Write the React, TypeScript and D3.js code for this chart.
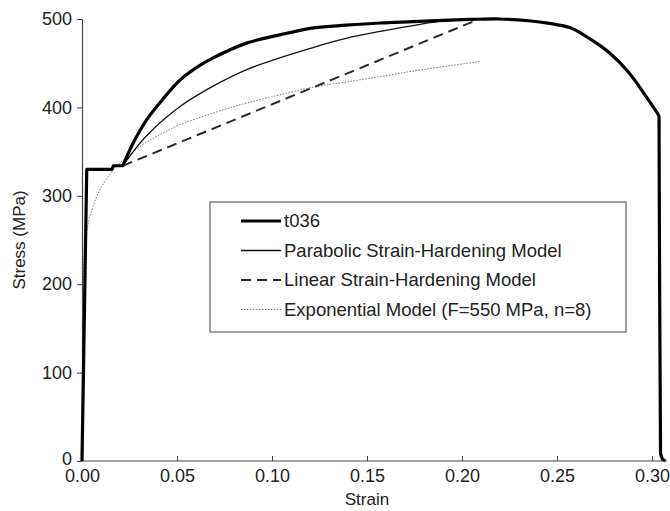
import React, { useEffect, useRef } from 'react';
import * as d3 from 'd3';

// tick labels
const strainTicks = [0, 0.05, 0.1, 0.15, 0.2, 0.25, 0.3];
const stressTicks = [0, 100, 200, 300, 400, 500];

// t036 test curve
const testStrain = [0, 0.0025, 0.0158, 0.0165, 0.0215, 0.027, 0.034, 0.0428, 0.0516, 0.0602, 0.069, 0.087, 0.104, 0.122, 0.139, 0.157, 0.174, 0.19, 0.205, 0.22, 0.235, 0.246, 0.257, 0.267, 0.278, 0.288, 0.297, 0.3024, 0.3037, 0.304, 0.3045, 0.3055, 0.307];
const testStress = [0, 330, 330, 334, 334, 360, 386, 410, 431, 445, 456, 473, 482, 490, 493, 495.5, 497, 498.5, 499.5, 500, 498, 495, 490, 478, 461, 439, 412, 395, 390, 200, 8, 2, 0];

// parabolic strain-hardening model
const paraStrain = [0.0215, 0.027, 0.034, 0.0516, 0.069, 0.087, 0.104, 0.122, 0.139, 0.157, 0.178, 0.19, 0.205];
const paraStress = [334, 350, 368, 401, 424, 443, 456, 468, 478, 486, 494, 497.5, 500];

// linear strain-hardening model
const linStrain = [0.0215, 0.208];
const linStress = [334, 499];

// exponential model (F=550 MPa, n=8)
const expStrain = [0, 0.0012, 0.002, 0.004, 0.007, 0.01, 0.015, 0.02, 0.03, 0.04, 0.05, 0.06, 0.08, 0.1, 0.122, 0.14, 0.16, 0.18, 0.21];
const expStress = [0, 238, 254, 275, 295, 309, 325, 337, 355, 368, 379, 387, 401, 412, 423, 429, 436, 443, 452];

const legendLabels = ['t036', 'Parabolic Strain-Hardening Model', 'Linear Strain-Hardening Model', 'Exponential Model (F=550 MPa, n=8)'];

const FONT = "'Liberation Sans', Arial, sans-serif";

export default function App() {
  const svgRef = useRef<SVGSVGElement>(null);

  useEffect(() => {
    const width = 670;
    const height = 511;

    const svg = d3.select(svgRef.current);
    svg.selectAll('*').remove();
    svg.attr('width', width).attr('height', height);

    const x = d3.scaleLinear().domain([0, 0.3]).range([82, 652]);
    const y = d3.scaleLinear().domain([0, 500]).range([461, 19]);

    const series = [
      { xs: expStrain, ys: expStress, stroke: '#7a7a7a', width: 1, dash: '1.5,1.5' },
      { xs: linStrain, ys: linStress, stroke: '#2a2a2a', width: 2, dash: '10,6' },
      { xs: paraStrain, ys: paraStress, stroke: '#111', width: 1.3, dash: null },
      { xs: testStrain, ys: testStress, stroke: '#000', width: 3.2, dash: null },
    ];

    const smooth = d3.line<[number, number]>()
      .x(d => x(d[0]))
      .y(d => y(d[1]))
      .curve(d3.curveCatmullRom.alpha(0.5));
    const straight = d3.line<[number, number]>()
      .x(d => x(d[0]))
      .y(d => y(d[1]));

    // axes
    const xAxis = d3.axisBottom(x)
      .tickValues(strainTicks)
      .tickFormat(d3.format('.2f'))
      .tickSizeInner(-5)
      .tickSizeOuter(0)
      .tickPadding(8);
    const gx = svg.append('g').attr('transform', 'translate(0,461)').call(xAxis);
    gx.select('.domain').remove();
    gx.append('line')
      .attr('x1', 82).attr('x2', x(0.308))
      .attr('stroke', '#444').attr('stroke-width', 1.2);

    const yAxis = d3.axisLeft(y)
      .tickValues(stressTicks)
      .tickSizeInner(5)
      .tickSizeOuter(0)
      .tickPadding(5);
    const gy = svg.append('g').attr('transform', 'translate(82,0)').call(yAxis);

    [gx, gy].forEach(g => {
      g.selectAll('.tick line').attr('stroke', '#444');
      g.selectAll('.domain').attr('stroke', '#444').attr('stroke-width', 1.2);
      g.selectAll('text')
        .attr('fill', '#222')
        .style('font-family', FONT)
        .style('font-size', '18px');
    });
    // lift the "0" stress label a touch so it clears "0.00"
    gy.selectAll('.tick text').filter((d: any) => d === 0).attr('dy', '0.2em');

    // curves
    series.forEach((s, i) => {
      const pts = s.xs.map((v, j) => [v, s.ys[j]] as [number, number]);
      let d: string | null;
      if (i === 3) {
        // yield plateau and final drop are straight, hardening part smooth
        const a = straight(pts.slice(0, 5)) || '';
        const b = (smooth(pts.slice(4, 28)) || '').replace(/^M/, 'L');
        const c = (straight(pts.slice(27)) || '').replace(/^M/, 'L');
        d = a + b + c;
      } else if (i === 1) {
        d = straight(pts);
      } else {
        d = smooth(pts);
      }
      svg.append('path')
        .attr('d', d)
        .attr('fill', 'none')
        .attr('stroke', s.stroke)
        .attr('stroke-width', s.width)
        .attr('stroke-dasharray', s.dash)
        .attr('stroke-linejoin', 'round');
    });

    // axis titles
    svg.append('text')
      .attr('x', 367).attr('y', 505)
      .attr('text-anchor', 'middle')
      .attr('fill', '#222')
      .style('font-family', FONT).style('font-size', '17px')
      .text('Strain');
    svg.append('text')
      .attr('transform', 'translate(25,240) rotate(-90)')
      .attr('text-anchor', 'middle')
      .attr('fill', '#222')
      .style('font-family', FONT).style('font-size', '17px')
      .text('Stress (MPa)');

    // legend
    const lg = svg.append('g');
    lg.append('rect')
      .attr('x', 210).attr('y', 202).attr('width', 416).attr('height', 130)
      .attr('fill', '#fff').attr('stroke', '#808080').attr('stroke-width', 1.5);
    const legendOrder = [3, 2, 1, 0];
    legendLabels.forEach((label, i) => {
      const s = series[legendOrder[i]];
      const ly = 221 + i * 29.5;
      lg.append('line')
        .attr('x1', 241).attr('x2', 281).attr('y1', ly).attr('y2', ly)
        .attr('stroke', s.stroke)
        .attr('stroke-width', s.width)
        .attr('stroke-dasharray', s.dash);
      lg.append('text')
        .attr('x', 284).attr('y', ly).attr('dy', '0.35em')
        .attr('fill', '#222')
        .style('font-family', FONT).style('font-size', '18.5px')
        .text(label);
    });
  }, []);

  return <svg ref={svgRef} style={{ position: 'absolute', left: 0, top: 0, background: '#fff' }}></svg>;
}
